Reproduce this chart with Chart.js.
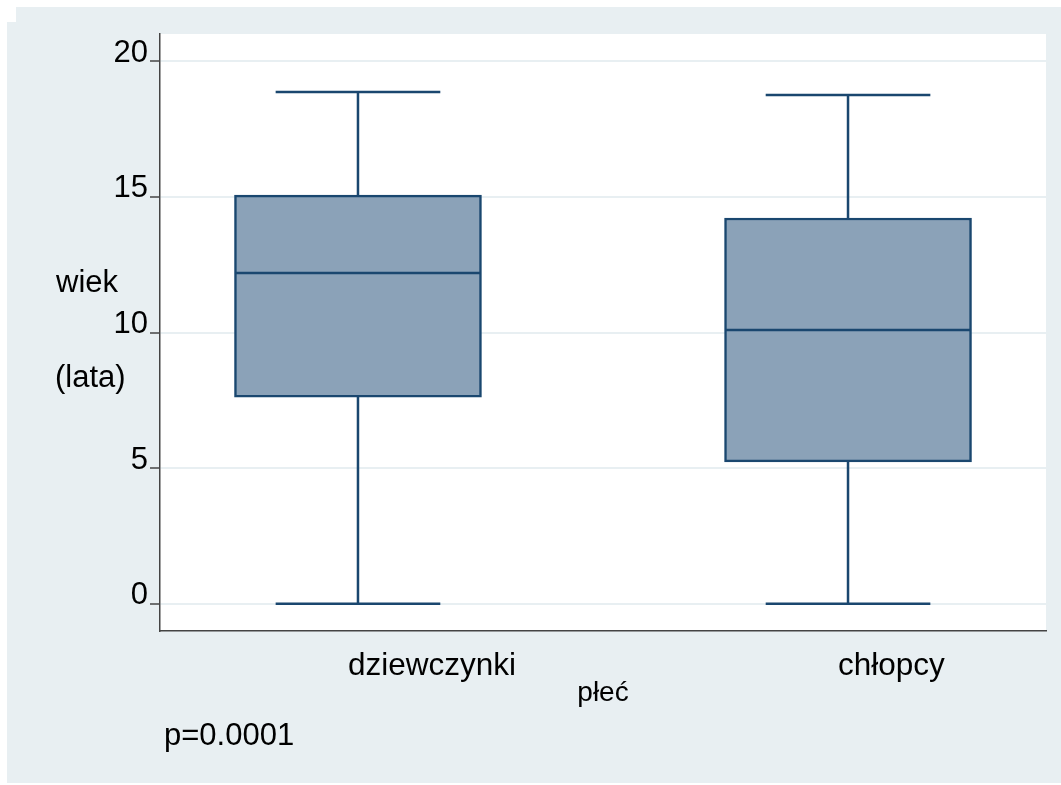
<!DOCTYPE html>
<html>
<head>
<meta charset="utf-8">
<script src="https://cdn.jsdelivr.net/npm/chart.js@4.4.0/dist/chart.umd.min.js"></script>
<style>
body { margin: 0; background: #fff; }
#wrap { width: 1061px; height: 785px; }
</style>
</head>
<body>
<div id="wrap"><canvas id="chart-box" width="1061" height="785"></canvas></div>
<script>
// box plot values
var categories = ['dziewczynki', 'chłopcy'];
var whiskerLow = [0, 0];
var quartile1 = [7.62, 5.23];
var medians = [12.19, 10.09];
var quartile3 = [15.06, 14.22];
var whiskerHigh = [18.86, 18.75];
var yTicks = [0, 5, 10, 15, 20];
var yTitle = ['wiek', '(lata)'];
var xTitle = 'płeć';
var note = 'p=0.0001';

var bgColor = '#e8eff2';
var navy = '#1a476f';
var boxFill = '#8ba2b8';
var axisColor = '#444';
var fontFamily = "'Liberation Sans', Arial, sans-serif";

var bgPlugin = {
    id: 'bg',
    beforeDraw: function (chart) {
        var ctx = chart.ctx;
        var a = chart.chartArea;
        ctx.save();
        ctx.fillStyle = '#fff';
        ctx.fillRect(0, 0, chart.width, chart.height);
        ctx.fillStyle = bgColor;
        ctx.fillRect(16, 7, chart.width - 16, 15);
        ctx.fillRect(7, 22, chart.width - 7, 761);
        ctx.fillStyle = '#fff';
        ctx.fillRect(a.left, a.top, a.right - a.left, a.bottom - a.top);
        ctx.restore();
    }
};

// whiskers, caps and median lines on top of the bars
var boxPlugin = {
    id: 'boxParts',
    afterDatasetsDraw: function (chart) {
        var ctx = chart.ctx;
        var xs = chart.scales.x;
        var ys = chart.scales.y;
        var capHalf = xs.getPixelForValue(0.168) - xs.getPixelForValue(0);
        var boxHalf = xs.getPixelForValue(0.251) - xs.getPixelForValue(0);
        ctx.save();
        ctx.strokeStyle = navy;
        ctx.lineWidth = 2.5;
        for (var i = 0; i < categories.length; i++) {
            var x = xs.getPixelForValue(i);
            var yMin = ys.getPixelForValue(whiskerLow[i]);
            var yQ1 = ys.getPixelForValue(quartile1[i]);
            var yMed = ys.getPixelForValue(medians[i]);
            var yQ3 = ys.getPixelForValue(quartile3[i]);
            var yMax = ys.getPixelForValue(whiskerHigh[i]);
            ctx.beginPath();
            ctx.moveTo(x, yQ3); ctx.lineTo(x, yMax);
            ctx.moveTo(x, yQ1); ctx.lineTo(x, yMin);
            ctx.moveTo(x - capHalf, yMax); ctx.lineTo(x + capHalf, yMax);
            ctx.moveTo(x - capHalf, yMin); ctx.lineTo(x + capHalf, yMin);
            ctx.moveTo(x - boxHalf, yMed); ctx.lineTo(x + boxHalf, yMed);
            ctx.stroke();
        }
        ctx.restore();
    }
};

var textPlugin = {
    id: 'texts',
    afterDraw: function (chart) {
        var ctx = chart.ctx;
        ctx.save();
        ctx.fillStyle = '#000';
        ctx.font = '31px ' + fontFamily;
        ctx.textAlign = 'left';
        ctx.textBaseline = 'alphabetic';
        ctx.fillText(yTitle[0], 56, 292);
        ctx.fillText(yTitle[1], 55, 387);
        ctx.fillText(note, 164, 745);
        ctx.restore();
    }
};

var config = {
    type: 'bar',
    data: {
        datasets: [{
            data: categories.map(function (c, i) {
                return { x: i, y: [quartile1[i], quartile3[i]] };
            }),
            backgroundColor: boxFill,
            borderColor: navy,
            borderWidth: 2.5,
            borderSkipped: false,
            barThickness: 247
        }]
    },
    options: {
        responsive: false,
        animation: false,
        layout: { padding: { top: 34, right: 15, bottom: 0, left: 0 } },
        plugins: {
            legend: { display: false },
            tooltip: { enabled: false }
        },
        scales: {
            x: {
                type: 'linear',
                offset: false,
                min: -0.404,
                max: 1.404,
                afterBuildTicks: function (s) {
                    s.ticks = categories.map(function (c, i) { return { value: i }; });
                },
                afterFit: function (s) { s.height = 154; },
                grid: { display: false, drawTicks: false, offset: false },
                border: { display: true, color: axisColor, width: 1.5 },
                ticks: {
                    align: 'start',
                    labelOffset: -10,
                    padding: 16,
                    color: '#000',
                    font: { family: fontFamily, size: 31.5 },
                    callback: function (v) { return categories[v]; }
                },
                title: {
                    display: true,
                    text: xTitle,
                    color: '#000',
                    font: { family: fontFamily, size: 28 },
                    padding: { top: 0, bottom: 75 }
                }
            },
            y: {
                min: -1,
                max: 21,
                afterBuildTicks: function (s) {
                    s.ticks = yTicks.map(function (v) { return { value: v }; });
                },
                afterFit: function (s) { s.width = 160; },
                grid: {
                    color: bgColor,
                    lineWidth: 2,
                    tickColor: axisColor,
                    tickWidth: 1.5,
                    tickLength: 10
                },
                border: { display: true, color: axisColor, width: 1.5 },
                ticks: {
                    padding: 2,
                    labelOffset: -8,
                    color: '#000',
                    font: { family: fontFamily, size: 31 }
                }
            }
        }
    },
    plugins: [bgPlugin, boxPlugin, textPlugin]
};

var boxChart = document.getElementById('chart-box').getContext('2d');
window.myBox = new Chart(boxChart, config);
</script>
</body>
</html>
